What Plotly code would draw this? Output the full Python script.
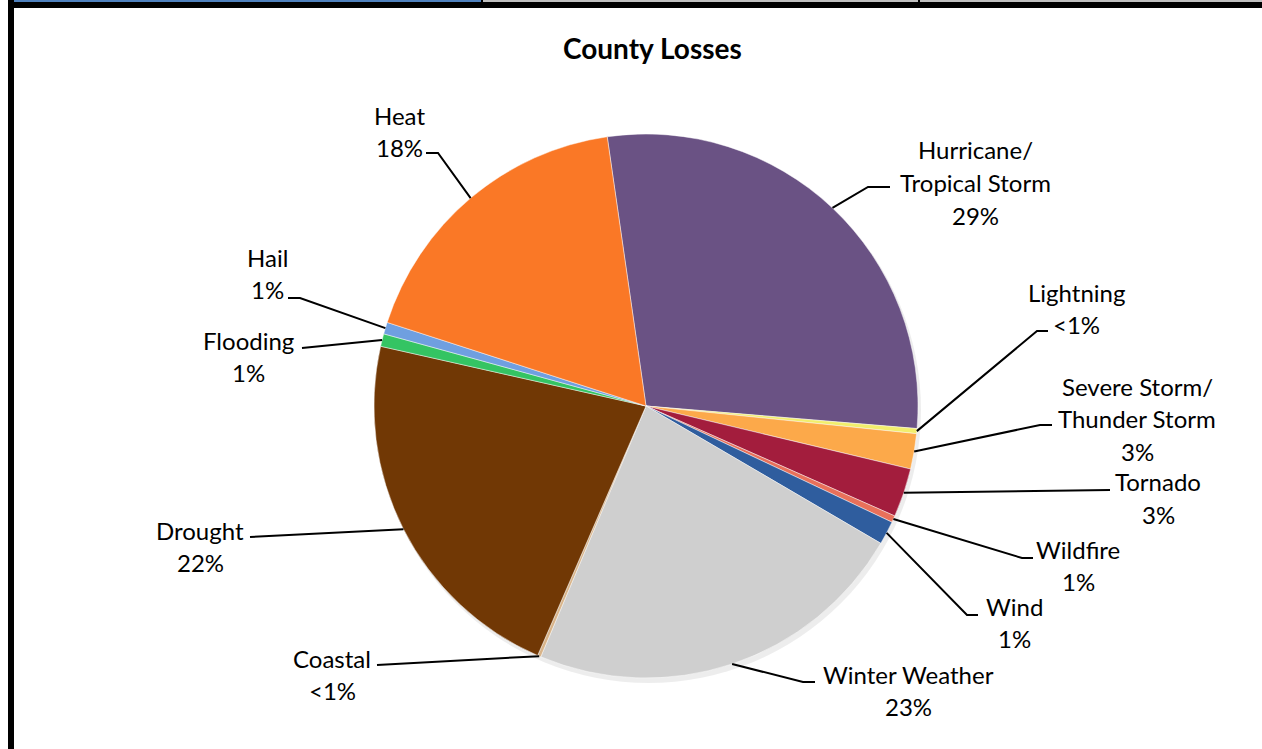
import math
import plotly.graph_objects as go

W, H = 1262, 749

# ---- data ----
categories = ["Hurricane/ Tropical Storm", "Lightning", "Severe Storm/ Thunder Storm", "Tornado",
              "Wildfire", "Wind", "Winter Weather", "Coastal", "Drought", "Flooding", "Hail", "Heat"]
values = [28.6, 0.3, 2.1, 2.9, 0.4, 1.4, 22.9, 0.2, 22.0, 0.75, 0.7, 17.75]
pct_labels = ["29%", "<1%", "3%", "3%", "1%", "1%", "23%", "<1%", "22%", "1%", "1%", "18%"]
label_lines = [["Hurricane/", "Tropical Storm"], ["Lightning"], ["Severe Storm/", "Thunder Storm"],
               ["Tornado"], ["Wildfire"], ["Wind"], ["Winter Weather"], ["Coastal"], ["Drought"],
               ["Flooding"], ["Hail"], ["Heat"]]
colors = ["#6A5284", "#F2EE6C", "#FCA94A", "#A31D3D", "#E8705A", "#2F5D9E",
          "#CFCFCF", "#D8B48A", "#713805", "#34C463", "#6F9FE0", "#FA7826"]

# ---- layout constants (pixels) ----
CX, CY, R = 646, 406, 272
ROT = -8.2
FONT = "Lato, 'Open Sans', sans-serif"
FS = 24
LINE_H = 32.5
# label block: (center x, center y of first line)
label_pos = [(975, 150), (1076, 292), (1137, 386), (1158, 482), (1078, 549), (1014, 606),
             (908, 674), (332, 658), (200, 530), (248, 340), (267, 257), (399, 115)]
# leader path beyond the pie edge point (pixel points, in order away from pie)
leader_pts = [[(868, 187), (890, 187)], [(1037, 331), (1048, 331)], [(1040, 425), (1052, 425)],
              [(1110, 490)], [(1022, 558), (1033, 558)], [(967, 615), (978, 615)],
              [(803, 682), (815, 682)], [(377, 665)], [(250, 537)], [(302, 348)],
              [(300, 298), (288, 298)], [(438, 153), (426, 153)]]


def px(x):
    return x / W


def py(y):
    return 1 - y / H


fig = go.Figure()
fig.add_trace(go.Pie(
    labels=categories, values=values, sort=False, direction="clockwise", rotation=ROT,
    marker=dict(colors=colors, line=dict(color="rgba(255,255,255,0.45)", width=1)),
    textinfo="none", hoverinfo="label+percent", showlegend=False,
    domain=dict(x=[px(CX - R), px(CX + R)], y=[py(CY + R), py(CY - R)]),
))

shapes = []
# soft shadow
shapes.append(dict(type="circle", xref="paper", yref="paper", layer="below",
                   x0=px(CX - R + 2), x1=px(CX + R + 3), y0=py(CY + R + 5), y1=py(CY - R + 3),
                   fillcolor="rgba(0,0,0,0.07)", line=dict(width=0)))

# leader lines from slice mid-angle on the pie edge
total = sum(values)
cum = 0.0
annotations = []
for i, v in enumerate(values):
    mid = ROT + (cum + v / 2) / total * 360
    cum += v
    a = math.radians(mid)
    ex, ey = CX + R * math.sin(a), CY - R * math.cos(a)
    pts = [(ex, ey)] + leader_pts[i]
    path = "M " + " L ".join(f"{px(x):.5f},{py(y):.5f}" for x, y in pts)
    shapes.append(dict(type="path", xref="paper", yref="paper", path=path,
                       line=dict(color="black", width=2)))
    lx, ly = label_pos[i]
    lines = label_lines[i] + [pct_labels[i]]
    for k, t in enumerate(lines):
        annotations.append(dict(x=px(lx), y=py(ly + k * LINE_H), xref="paper", yref="paper",
                                text=t, showarrow=False, xanchor="center", yanchor="middle",
                                font=dict(family=FONT, size=FS, color="black")))

# frame decorations
shapes += [
    dict(type="rect", xref="paper", yref="paper", x0=px(8), x1=px(14), y0=0, y1=1,
         fillcolor="black", line=dict(width=0)),
    dict(type="rect", xref="paper", yref="paper", x0=px(8), x1=1, y0=py(8), y1=1,
         fillcolor="black", line=dict(width=0)),
    dict(type="rect", xref="paper", yref="paper", x0=px(14), x1=px(481), y0=py(2), y1=1,
         fillcolor="#4F81BD", line=dict(width=0)),
    dict(type="rect", xref="paper", yref="paper", x0=px(483), x1=px(918), y0=py(2), y1=1,
         fillcolor="#BFBFBF", line=dict(width=0)),
    dict(type="rect", xref="paper", yref="paper", x0=px(920), x1=1, y0=py(2), y1=1,
         fillcolor="#BFBFBF", line=dict(width=0)),
]

annotations.append(dict(x=px(653), y=py(48), xref="paper", yref="paper", text="<b>County Losses</b>",
                        showarrow=False, xanchor="center", yanchor="middle",
                        font=dict(family=FONT, size=28, color="black")))

fig.update_layout(width=W, height=H, margin=dict(l=0, r=0, t=0, b=0),
                  paper_bgcolor="white", plot_bgcolor="white",
                  shapes=shapes, annotations=annotations)

fig.write_html("out.html")
